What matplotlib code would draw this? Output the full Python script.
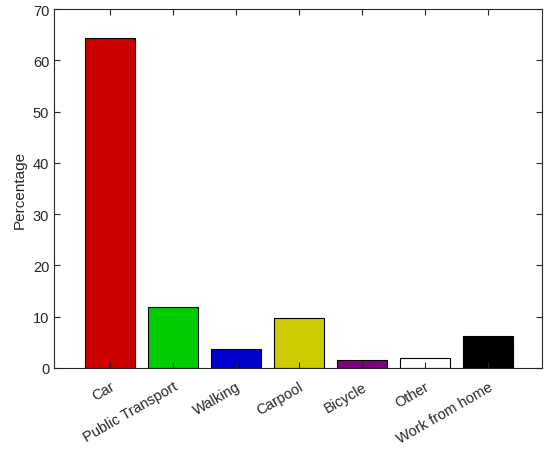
import matplotlib
matplotlib.use("Agg")
import matplotlib.pyplot as plt

categories = ["Car", "Public Transport", "Walking", "Carpool", "Bicycle", "Other", "Work from home"]
values = [64.3, 11.9, 3.7, 9.8, 1.6, 1.9, 6.3]
colors = ["#cc0000", "#00cc00", "#0000cc", "#cccc00", "#800080", "#ffffff", "#000000"]

plt.rcParams['font.family'] = ['Liberation Sans', 'DejaVu Sans']
fig = plt.figure(figsize=(5.5, 4.52), dpi=100)
ax = fig.add_axes([54/550, 1-369/452, (542-54)/550, (369-10)/452])
pos = list(range(1, len(categories) + 1))
ax.bar(pos, values, width=0.8, color=colors, edgecolor="black", linewidth=0.8)
ax.set_xlim(0.11, 7.86)
ax.set_ylim(0, 70)
ax.set_yticks(range(0, 71, 10))
ax.set_xticks(pos)
ax.set_xticklabels(categories, rotation=30, ha='right', rotation_mode='anchor', fontsize=10.5)
ax.tick_params(axis='both', direction='in', top=True, right=True, length=4, color='#262626', labelcolor='#262626', labelsize=10.5)
ax.tick_params(axis='x', pad=8)
for s in ax.spines.values():
    s.set_color('#262626')
    s.set_linewidth(0.8)
ax.set_ylabel("Percentage", fontsize=11, color='#262626')
fig.savefig("out.png", dpi=100)
